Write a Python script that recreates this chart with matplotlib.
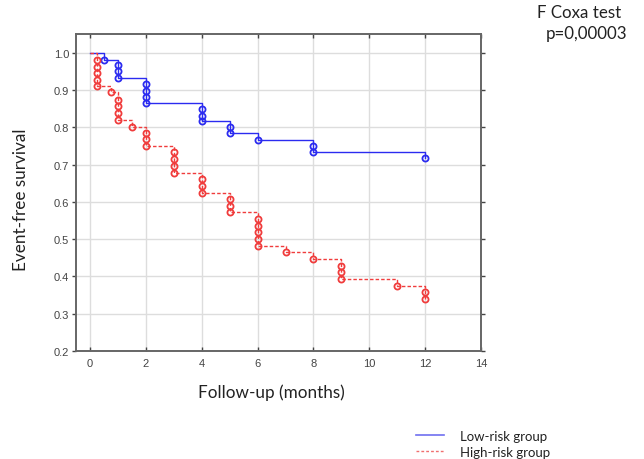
import matplotlib
matplotlib.use("Agg")
import matplotlib.pyplot as plt
from matplotlib.lines import Line2D

# Low-risk group: event times (months) and survival values at each marked event
low_times = [0.5, 1, 2, 4, 5, 6, 8, 12]
low_surv = [
    [0.982],
    [0.968, 0.951, 0.933],
    [0.917, 0.899, 0.883, 0.866],
    [0.850, 0.832, 0.817],
    [0.800, 0.784],
    [0.767],
    [0.750, 0.733],
    [0.717],
]

# High-risk group
high_times = [0.25, 0.75, 1, 1.5, 2, 3, 4, 5, 6, 7, 8, 9, 11, 12]
high_surv = [
    [0.982, 0.962, 0.946, 0.928, 0.910],
    [0.894],
    [0.875, 0.857, 0.839, 0.821],
    [0.802],
    [0.785, 0.768, 0.750],
    [0.733, 0.715, 0.696, 0.678],
    [0.662, 0.643, 0.625],
    [0.608, 0.589, 0.572],
    [0.554, 0.536, 0.519, 0.501, 0.482],
    [0.465],
    [0.447],
    [0.429, 0.411, 0.392],
    [0.375],
    [0.358, 0.340],
]

x_ticks = [0, 2, 4, 6, 8, 10, 12, 14]
y_ticks = [0.2, 0.3, 0.4, 0.5, 0.6, 0.7, 0.8, 0.9, 1.0]

BLUE = "#2b2bf0"
RED = "#f03c3c"

fig = plt.figure(figsize=(6.44, 4.60), dpi=100)
ax = fig.add_axes([0.118, 0.235, 0.629, 0.689])


def draw_group(times, surv, color, ls):
    xs = [0] + list(times)
    ys = [1.0] + [min(s) for s in surv]
    ax.step(xs, ys, where="post", color=color, lw=1.0, linestyle=ls, zorder=3)
    mx, my = [], []
    for t, ss in zip(times, surv):
        for s in ss:
            mx.append(t)
            my.append(s)
    ax.plot(mx, my, linestyle="none", marker="o", markersize=4.4,
            markerfacecolor="none", markeredgecolor=color,
            markeredgewidth=1.3, zorder=4)


draw_group(low_times, low_surv, BLUE, "-")
draw_group(high_times, high_surv, RED, (0, (2.5, 1.5)))

ax.set_xlim(-0.5, 14)
ax.set_ylim(0.2, 1.051)
ax.set_xticks(x_ticks)
ax.set_yticks(y_ticks)
ax.set_xticklabels([str(v) for v in x_ticks])
ax.set_yticklabels([f"{v:.1f}" for v in y_ticks])
ax.grid(True, color="#dddddd", lw=1.0, zorder=0)
ax.set_axisbelow(True)
for sp in ax.spines.values():
    sp.set_color("#666666")
    sp.set_linewidth(1.4)
ax.tick_params(axis="both", labelsize=8, colors="#444444", length=3, width=1.0)
ax.tick_params(axis="x", direction="in", pad=5, top=True)
ax.tick_params(axis="y", direction="out", pad=2, right=True)
for lab in ax.get_xticklabels() + ax.get_yticklabels():
    lab.set_family("Liberation Sans")
    lab.set_color("#444444")

font = "Lato"
fig.text(0.422, 0.146, "Follow-up (months)", ha="center", va="center",
         fontsize=12.3, family=font, color="#222222")
fig.text(0.033, 0.565, "Event-free survival", ha="center", va="center",
         rotation=90, fontsize=12.3, family=font, color="#222222")
fig.text(0.834, 0.971, "F Coxa test", ha="left", va="center",
         fontsize=12.2, family=font, color="#222222")
fig.text(0.847, 0.926, "p=0,00003", ha="left", va="center",
         fontsize=12.2, family=font, color="#222222")

handles = [Line2D([], [], color="#6f6ff0", lw=1.2),
           Line2D([], [], color="#f06f6f", lw=1.0, linestyle=(0, (2, 1.5)))]
leg = fig.legend(handles, ["Low-risk group", "High-risk group"],
                 loc="center left", bbox_to_anchor=(0.628, 0.033),
                 frameon=False, handlelength=2.1, handletextpad=1.2,
                 labelspacing=0.3, prop={"family": font, "size": 9.5})
for t in leg.get_texts():
    t.set_color("#222222")

fig.savefig("out.png", dpi=100)
